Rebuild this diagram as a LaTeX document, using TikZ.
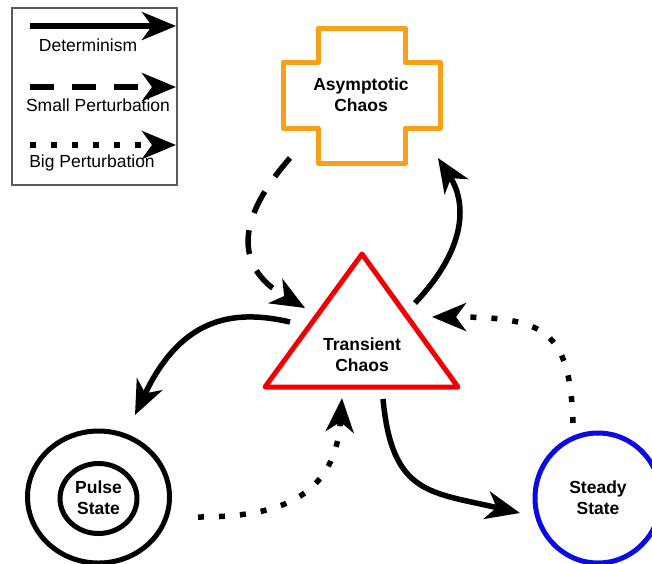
\documentclass[tikz,border=0pt]{standalone}
\usepackage{fontspec}
\setmainfont{Liberation Sans}
\usetikzlibrary{arrows.meta}
\definecolor{crossorange}{RGB}{247,160,25}
\definecolor{trired}{RGB}{240,0,0}
\definecolor{steadyblue}{RGB}{10,10,230}
\definecolor{framegray}{RGB}{90,90,90}
\tikzset{
  det/.style={line width=5.5pt, -{Stealth[length=34pt,width=28pt,inset=10pt]}},
  smallp/.style={det, dash pattern=on 24pt off 18pt},
  bigp/.style={det, dash pattern=on 6pt off 15pt},
  lbl/.style={font=\fontsize{17.5}{21}\selectfont\bfseries, align=center, inner sep=0pt},
  leg/.style={font=\fontsize{17.5}{19}\selectfont, inner sep=0pt},
  shapeline/.style={line width=5pt, line join=round},
}
\begin{document}
\begin{tikzpicture}[x=1pt,y=-1pt]
\useasboundingbox (0,0) rectangle (652,563);
% legend
\draw[framegray, line width=1.2pt] (12,8) rectangle (177,185);
\coordinate (l1a) at (30,26);  \coordinate (l1b) at (176,26);
\coordinate (l2a) at (30,87);  \coordinate (l2b) at (176,87);
\coordinate (l3a) at (30,145); \coordinate (l3b) at (176,145);
\draw[det] (l1a) -- (l1b);
\draw[smallp] (l2a) -- (l2b);
\draw[bigp] (l3a) -- (l3b);
\node[leg] (t1) at (88,45) {Determinism};
\node[leg] (t2) at (98,105) {Small Perturbation};
\node[leg] (t3) at (92,163) {Big Perturbation};
% asymptotic chaos cross
\draw[crossorange, shapeline, fill=white]
  (318,28) -- (405,28) -- (405,62) -- (440,62) -- (440,128) -- (405,128) -- (405,163)
  -- (318,163) -- (318,128) -- (283,128) -- (283,62) -- (318,62) -- cycle;
\node[lbl] (asym) at (361,95) {Asymptotic\\Chaos};
% transient chaos triangle
\draw[trired, shapeline] (362,254) -- (458,387) -- (265,387) -- cycle;
\node[lbl] (trans) at (362,355) {Transient\\Chaos};
% pulse state
\draw[black, line width=5pt] (98.5,497) ellipse [x radius=71, y radius=66];
\draw[black, line width=5pt] (98.5,498.5) ellipse [x radius=38.5, y radius=35];
\node[lbl] (pulse) at (98.5,498) {Pulse\\State};
% steady state
\draw[steadyblue, line width=5pt] (598,498) ellipse [x radius=63, y radius=65];
\node[lbl] (steady) at (598,498) {Steady\\State};
% connector end points
\coordinate (a1s) at (290,158); \coordinate (a1e) at (305,308);
\coordinate (a2s) at (415,303); \coordinate (a2e) at (438,158);
\coordinate (a3s) at (290,322); \coordinate (a3e) at (135,415);
\coordinate (a4s) at (383,399); \coordinate (a4e) at (520,513);
\coordinate (a5s) at (573,423); \coordinate (a5e) at (432,317);
\coordinate (a6s) at (198,517); \coordinate (a6e) at (342,398);
% connectors
\draw[smallp] (a1s) .. controls (240,215) and (230,265) .. (a1e);
\draw[det] (a2s) .. controls (470,245) and (465,200) .. (a2e);
\draw[det] (a3s) .. controls (230,308) and (180,320) .. (a3e);
\draw[det] (a4s) .. controls (392,495) and (430,492) .. (a4e);
\draw[bigp] (a5s) .. controls (570,330) and (545,317) .. (a5e);
\draw[bigp] (a6s) .. controls (275,517) and (335,500) .. (a6e);
\end{tikzpicture}
\end{document}
